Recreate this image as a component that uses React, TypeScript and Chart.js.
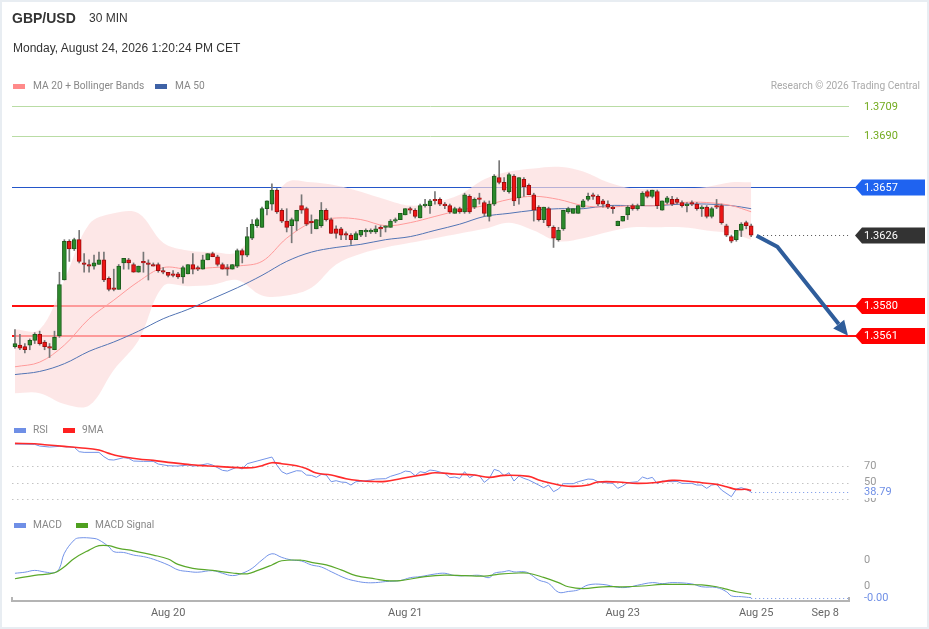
import React, { useEffect, useRef } from "react";
import { Chart, registerables } from "chart.js";

Chart.register(...registerables);

// ---------- DATA ----------
const candleOpen = [
  1.3554, 1.3555, 1.3554, 1.3555, 1.3558, 1.3562, 1.3557, 1.3554, 1.3552, 1.3561,
  1.3597, 1.3622, 1.3617, 1.3623, 1.3608, 1.3607, 1.3606, 1.3607, 1.3610, 1.3598,
  1.3592, 1.3591, 1.3608, 1.3610, 1.3607, 1.3602, 1.3609, 1.3608, 1.3607, 1.3607,
  1.3603, 1.3602, 1.3601, 1.3601, 1.3599, 1.3601, 1.3607, 1.3605, 1.3604, 1.3610,
  1.3614, 1.3612, 1.3607, 1.3605, 1.3604, 1.3606, 1.3616, 1.3613, 1.3624, 1.3632,
  1.3631, 1.3643, 1.3646, 1.3655, 1.3642, 1.3635, 1.3632, 1.3635, 1.3645, 1.3643,
  1.3635, 1.3630, 1.3632, 1.3642, 1.3636, 1.3630, 1.3630, 1.3627, 1.3626, 1.3623,
  1.3626, 1.3628, 1.3628, 1.3628, 1.3631, 1.3631, 1.3631, 1.3635, 1.3636, 1.3639,
  1.3643, 1.3642, 1.3637, 1.3645, 1.3645, 1.3649, 1.3649, 1.3646, 1.3645, 1.3640,
  1.3643, 1.3641, 1.3651, 1.3644, 1.3650, 1.3647, 1.3638, 1.3646, 1.3663, 1.3660,
  1.3654, 1.3664, 1.3650, 1.3662, 1.3658, 1.3652, 1.3644, 1.3636, 1.3643, 1.3631,
  1.3623, 1.3630, 1.3641, 1.3640, 1.3640, 1.3644, 1.3649, 1.3652, 1.3651, 1.3648,
  1.3646, 1.3644, 1.3632, 1.3635, 1.3639, 1.3645, 1.3643, 1.3645, 1.3654, 1.3651,
  1.3654, 1.3642, 1.3647, 1.3649, 1.3649, 1.3647, 1.3645, 1.3647, 1.3646, 1.3643,
  1.3644, 1.3638, 1.3645, 1.3645, 1.3632, 1.3625, 1.3623, 1.3629, 1.3634, 1.3632,
];
const candleHigh = [
  1.3565, 1.3562, 1.3556, 1.3559, 1.3563, 1.3564, 1.3558, 1.3556, 1.3564, 1.3602,
  1.3623, 1.3623, 1.3624, 1.3629, 1.3614, 1.3610, 1.3613, 1.3615, 1.3615, 1.3599,
  1.3604, 1.3607, 1.3611, 1.3611, 1.3608, 1.3606, 1.3615, 1.3610, 1.3608, 1.3608,
  1.3605, 1.3602, 1.3603, 1.3602, 1.3606, 1.3607, 1.3614, 1.3606, 1.3613, 1.3614,
  1.3615, 1.3613, 1.3608, 1.3607, 1.3607, 1.3617, 1.3617, 1.3631, 1.3636, 1.3637,
  1.3644, 1.3648, 1.3659, 1.3656, 1.3643, 1.3643, 1.3637, 1.3642, 1.3652, 1.3644,
  1.3639, 1.3636, 1.3647, 1.3643, 1.3637, 1.3632, 1.3631, 1.3628, 1.3627, 1.3628,
  1.3629, 1.3630, 1.3630, 1.3632, 1.3632, 1.3632, 1.3636, 1.3637, 1.3640, 1.3643,
  1.3644, 1.3643, 1.3646, 1.3649, 1.3649, 1.3654, 1.3650, 1.3647, 1.3646, 1.3644,
  1.3644, 1.3653, 1.3652, 1.3650, 1.3653, 1.3648, 1.3648, 1.3665, 1.3674, 1.3663,
  1.3666, 1.3665, 1.3663, 1.3663, 1.3659, 1.3653, 1.3645, 1.3644, 1.3644, 1.3632,
  1.3631, 1.3642, 1.3644, 1.3643, 1.3645, 1.3649, 1.3653, 1.3653, 1.3652, 1.3649,
  1.3648, 1.3645, 1.3635, 1.3638, 1.3645, 1.3646, 1.3646, 1.3654, 1.3655, 1.3655,
  1.3655, 1.3648, 1.3651, 1.3651, 1.3650, 1.3648, 1.3647, 1.3648, 1.3647, 1.3645,
  1.3645, 1.3644, 1.3649, 1.3646, 1.3633, 1.3626, 1.3629, 1.3634, 1.3635, 1.3633,
];
const candleLow = [
  1.3553, 1.3552, 1.3550, 1.3552, 1.3556, 1.3555, 1.3552, 1.3547, 1.3552, 1.3560,
  1.3597, 1.3609, 1.3616, 1.3608, 1.3602, 1.3602, 1.3604, 1.3607, 1.3596, 1.3590,
  1.3590, 1.3591, 1.3604, 1.3604, 1.3602, 1.3602, 1.3602, 1.3597, 1.3606, 1.3602,
  1.3601, 1.3599, 1.3599, 1.3598, 1.3595, 1.3601, 1.3601, 1.3603, 1.3604, 1.3610,
  1.3612, 1.3606, 1.3604, 1.3600, 1.3604, 1.3605, 1.3608, 1.3612, 1.3623, 1.3631,
  1.3631, 1.3639, 1.3642, 1.3640, 1.3634, 1.3628, 1.3621, 1.3629, 1.3640, 1.3632,
  1.3627, 1.3630, 1.3631, 1.3635, 1.3627, 1.3624, 1.3623, 1.3623, 1.3620, 1.3623,
  1.3625, 1.3625, 1.3627, 1.3627, 1.3625, 1.3628, 1.3631, 1.3634, 1.3636, 1.3639,
  1.3640, 1.3637, 1.3637, 1.3644, 1.3640, 1.3646, 1.3645, 1.3643, 1.3640, 1.3640,
  1.3640, 1.3640, 1.3640, 1.3643, 1.3646, 1.3638, 1.3635, 1.3645, 1.3659, 1.3654,
  1.3653, 1.3645, 1.3646, 1.3651, 1.3652, 1.3635, 1.3635, 1.3634, 1.3631, 1.3618,
  1.3622, 1.3629, 1.3640, 1.3640, 1.3640, 1.3644, 1.3648, 1.3649, 1.3645, 1.3644,
  1.3643, 1.3640, 1.3632, 1.3635, 1.3636, 1.3642, 1.3642, 1.3645, 1.3650, 1.3650,
  1.3643, 1.3642, 1.3646, 1.3645, 1.3646, 1.3644, 1.3641, 1.3645, 1.3642, 1.3638,
  1.3637, 1.3637, 1.3643, 1.3633, 1.3625, 1.3621, 1.3622, 1.3625, 1.3630, 1.3625,
];
const candleClose = [
  1.3556, 1.3553, 1.3552, 1.3558, 1.3562, 1.3556, 1.3554, 1.3553, 1.3560, 1.3594,
  1.3622, 1.3617, 1.3623, 1.3609, 1.3607, 1.3606, 1.3608, 1.3610, 1.3597, 1.3591,
  1.3591, 1.3606, 1.3611, 1.3608, 1.3602, 1.3606, 1.3608, 1.3607, 1.3606, 1.3603,
  1.3602, 1.3600, 1.3600, 1.3599, 1.3605, 1.3607, 1.3604, 1.3604, 1.3610, 1.3614,
  1.3612, 1.3607, 1.3604, 1.3604, 1.3607, 1.3616, 1.3613, 1.3625, 1.3633, 1.3636,
  1.3643, 1.3648, 1.3655, 1.3641, 1.3635, 1.3631, 1.3636, 1.3642, 1.3642, 1.3633,
  1.3634, 1.3636, 1.3642, 1.3636, 1.3627, 1.3627, 1.3626, 1.3626, 1.3623, 1.3627,
  1.3629, 1.3629, 1.3629, 1.3630, 1.3630, 1.3632, 1.3635, 1.3636, 1.3640, 1.3643,
  1.3642, 1.3638, 1.3645, 1.3646, 1.3648, 1.3648, 1.3646, 1.3645, 1.3641, 1.3643,
  1.3641, 1.3652, 1.3641, 1.3649, 1.3649, 1.3640, 1.3646, 1.3664, 1.3660, 1.3655,
  1.3665, 1.3648, 1.3663, 1.3657, 1.3652, 1.3642, 1.3636, 1.3644, 1.3632, 1.3624,
  1.3629, 1.3642, 1.3643, 1.3643, 1.3645, 1.3648, 1.3651, 1.3651, 1.3646, 1.3646,
  1.3644, 1.3643, 1.3635, 1.3638, 1.3644, 1.3643, 1.3645, 1.3653, 1.3651, 1.3655,
  1.3645, 1.3648, 1.3650, 1.3646, 1.3647, 1.3645, 1.3646, 1.3646, 1.3643, 1.3644,
  1.3638, 1.3643, 1.3644, 1.3634, 1.3626, 1.3622, 1.3629, 1.3633, 1.3632, 1.3626,
];

// overlays sampled every 5 candles
const bandIndex = [0, 5, 10, 15, 20, 25, 30, 35, 40, 45, 50, 55, 60, 65, 70, 75, 80, 85, 90, 95, 100, 105, 110, 115, 120, 125, 130, 135, 140, 145, 149];
const bbUpper = [1.3565, 1.3565, 1.3597, 1.3633, 1.3640, 1.3640, 1.3621, 1.3616, 1.3615, 1.3615, 1.3636, 1.3660, 1.3660, 1.3658, 1.3654, 1.3649, 1.3645, 1.3647, 1.3652, 1.3662, 1.3667, 1.3669, 1.3670, 1.3667, 1.3660, 1.3656, 1.3656, 1.3656, 1.3657, 1.3660, 1.3660];
const bbLower = [1.3524, 1.3524, 1.3517, 1.3516, 1.3539, 1.3558, 1.3593, 1.3593, 1.3594, 1.3597, 1.3587, 1.3587, 1.3592, 1.3607, 1.3614, 1.3618, 1.3621, 1.3624, 1.3627, 1.3630, 1.3634, 1.3629, 1.3622, 1.3624, 1.3628, 1.3631, 1.3631, 1.3631, 1.3629, 1.3627, 1.3623];
const ma20 = [1.3541, 1.3544, 1.3555, 1.3572, 1.3584, 1.3596, 1.3605, 1.3604, 1.3605, 1.3606, 1.3609, 1.3624, 1.3634, 1.3637, 1.3636, 1.3632, 1.3634, 1.3638, 1.3642, 1.3645, 1.3649, 1.3651, 1.3649, 1.3645, 1.3644, 1.3645, 1.3645, 1.3647, 1.3647, 1.3645, 1.3641];
const ma50 = [1.3536, 1.3538, 1.3543, 1.3551, 1.3557, 1.3564, 1.3572, 1.3578, 1.3585, 1.3592, 1.3600, 1.3609, 1.3615, 1.3618, 1.3620, 1.3623, 1.3625, 1.3629, 1.3633, 1.3638, 1.3640, 1.3642, 1.3643, 1.3643, 1.3645, 1.3645, 1.3645, 1.3646, 1.3646, 1.3645, 1.3643];

// [candle index, value]
const rsiPoints = [
  [0, 96.4], [4, 96.0], [5, 94.0], [7, 92.8], [9, 93.6], [11, 92.8], [12, 92.4], [13, 87.2], [14, 86.4], [17, 86.4],
  [18, 81.2], [19, 77.6], [20, 77.2], [22, 80.0], [23, 79.2], [24, 76.0], [26, 75.6], [28, 75.6], [29, 72.4], [31, 70.4],
  [33, 70.0], [35, 71.2], [36, 70.0], [37, 70.4], [39, 72.8], [40, 71.2], [42, 64.8], [43, 64.0], [45, 68.8], [46, 66.4],
  [47, 72.8], [49, 76.0], [51, 79.2], [52, 80.8], [53, 71.2], [54, 63.2], [55, 60.4], [57, 64.4], [58, 64.0], [59, 59.2],
  [60, 58.8], [61, 56.4], [62, 60.0], [63, 59.2], [64, 51.2], [65, 52.4], [66, 50.8], [67, 50.4], [68, 47.2], [69, 51.2],
  [70, 51.6], [72, 53.2], [73, 54.4], [75, 54.8], [76, 57.6], [78, 61.2], [79, 64.0], [80, 63.2], [81, 58.4], [82, 63.2],
  [83, 62.0], [84, 65.2], [85, 64.4], [87, 61.2], [88, 56.0], [89, 56.8], [90, 55.2], [91, 63.2], [92, 56.0], [93, 59.2],
  [94, 58.4], [95, 50.4], [96, 55.2], [97, 66.0], [98, 64.0], [99, 58.4], [100, 62.0], [101, 52.0], [102, 58.0], [103, 55.2],
  [104, 53.2], [106, 47.2], [107, 44.0], [108, 47.2], [109, 39.2], [110, 42.4], [111, 48.8], [113, 48.8], [114, 51.2], [116, 54.4],
  [117, 54.0], [118, 51.2], [120, 49.6], [121, 49.2], [122, 43.2], [123, 46.0], [124, 50.0], [126, 51.2], [127, 56.8], [128, 54.8],
  [129, 56.4], [130, 48.8], [131, 52.0], [133, 51.2], [134, 51.6], [135, 49.2], [137, 49.2], [138, 47.2], [139, 47.2], [140, 43.2],
  [141, 47.2], [142, 48.0], [143, 41.2], [145, 33.2], [146, 42.4], [147, 44.0], [148, 42.0], [149, 38.79],
];
const rsi9maPoints = [
  [0, 97.2], [4, 96.8], [6, 95.6], [10, 93.6], [13, 92.0], [17, 89.2], [19, 85.2], [21, 82.0], [25, 78.4], [28, 76.8],
  [31, 74.4], [35, 72.0], [37, 70.8], [41, 69.6], [44, 68.4], [48, 68.0], [50, 70.4], [52, 74.0], [54, 72.8], [57, 70.4],
  [59, 66.8], [61, 61.6], [64, 59.2], [67, 54.8], [70, 52.4], [72, 51.6], [75, 51.6], [78, 54.8], [79, 56.0], [83, 60.0],
  [85, 62.0], [89, 60.4], [93, 59.2], [96, 56.4], [99, 58.8], [104, 57.6], [106, 53.2], [109, 48.8], [111, 46.4], [113, 45.6],
  [116, 47.2], [118, 50.8], [122, 50.8], [126, 49.2], [130, 50.4], [133, 52.8], [135, 52.4], [139, 50.0], [142, 48.0], [144, 45.2],
  [146, 42.0], [148, 42.0], [149, 40.8],
];
const macdPoints = [
  [0, 4.9e-4], [2, 5.3e-4], [4, 6.0e-4], [6, 5.4e-4], [8, 5.1e-4], [9, 6.8e-4], [10, 12.6e-4], [12, 17.7e-4], [13, 18.5e-4], [16, 18.3e-4],
  [17, 17.7e-4], [19, 15.1e-4], [20, 13.2e-4], [22, 12.9e-4], [24, 11.9e-4], [26, 11.3e-4], [28, 10.3e-4], [31, 8.1e-4], [33, 6.2e-4], [35, 5.6e-4],
  [37, 5.3e-4], [40, 5.9e-4], [42, 4.9e-4], [44, 4.0e-4], [46, 4.9e-4], [48, 6.8e-4], [50, 10.0e-4], [52, 12.4e-4], [54, 11.0e-4], [56, 10.0e-4],
  [58, 9.6e-4], [60, 8.1e-4], [62, 7.3e-4], [64, 5.5e-4], [67, 2.9e-4], [69, 1.9e-4], [71, 1.3e-4], [73, 1.3e-4], [75, 1.7e-4], [78, 2.1e-4],
  [80, 3.2e-4], [82, 3.6e-4], [85, 4.6e-4], [87, 4.9e-4], [89, 4.0e-4], [92, 4.0e-4], [94, 4.1e-4], [96, 3.2e-4], [97, 4.9e-4], [99, 5.5e-4],
  [100, 5.9e-4], [101, 5.4e-4], [103, 5.5e-4], [104, 4.9e-4], [106, 2.3e-4], [108, 1.0e-4], [110, -2.4e-4], [112, -2.1e-4], [114, -1.5e-4], [116, 0.4e-4],
  [119, 0.6e-4], [122, -0.5e-4], [124, -0.5e-4], [126, 0.3e-4], [129, 1.3e-4], [131, 0.9e-4], [133, 1.3e-4], [137, 0.8e-4], [139, -0.3e-4], [142, -0.6e-4],
  [144, -2.2e-4], [145, -3.8e-4], [147, -4.1e-4], [149, -4.5e-4],
];
const macdSignalPoints = [
  [0, 2.8e-4], [4, 4.1e-4], [8, 5.1e-4], [10, 7.4e-4], [12, 10.6e-4], [15, 13.8e-4], [17, 15.5e-4], [19, 15.5e-4], [21, 14.5e-4], [24, 13.5e-4],
  [28, 11.9e-4], [31, 10.4e-4], [33, 8.3e-4], [36, 6.8e-4], [40, 6.0e-4], [44, 5.0e-4], [47, 4.7e-4], [49, 5.9e-4], [52, 8.1e-4], [54, 9.7e-4],
  [58, 9.9e-4], [60, 9.1e-4], [63, 8.1e-4], [66, 6.2e-4], [69, 4.0e-4], [73, 2.7e-4], [75, 2.1e-4], [78, 2.1e-4], [83, 3.6e-4], [87, 4.2e-4],
  [91, 4.0e-4], [95, 3.8e-4], [98, 4.6e-4], [102, 5.0e-4], [104, 4.9e-4], [107, 3.3e-4], [110, 1.3e-4], [112, -0.3e-4], [115, -1.0e-4], [119, -0.3e-4],
  [123, -0.3e-4], [127, 0.0], [131, 0.6e-4], [135, 0.6e-4], [139, 0.4e-4], [142, -0.3e-4], [144, -1.2e-4], [146, -2.2e-4], [149, -3.1e-4],
];

const xTickIndex = [31, 79, 123, 150, 164];
const xTickLabels = ["Aug 20", "Aug 21", "Aug 23", "Aug 25", "Sep 8"];

const resistanceLevels = [1.3709, 1.369];
const pivotLevel = 1.3657;
const lastPrice = 1.3626;
const supportLevels = [1.358, 1.3561];
const rsiTicks = [70, 50, 30];
const rsiLast = 38.79;
const macdTicks = [0.001, 0];
const macdLast = -0.00045;
const arrowPath = [[150.1, 1.36256], [154.3, 1.36185], [168.6, 1.3561]];

// ---------- STYLE ----------
const FONT = "Roboto, 'Liberation Sans', Arial, sans-serif";
const HEAD_FONT = "'Liberation Sans', Arial, sans-serif";
const GREEN_BODY = "#2b8a2b";
const GREEN_EDGE = "#1d5c1d";
const RED_BODY = "#ee1515";
const RED_EDGE = "#9a0d0d";

function tag(ctx: CanvasRenderingContext2D, y: number, text: string, bg: string) {
  const x0 = 855;
  ctx.beginPath();
  ctx.moveTo(x0, y);
  ctx.lineTo(x0 + 7, y - 8);
  ctx.lineTo(925, y - 8);
  ctx.lineTo(925, y + 8);
  ctx.lineTo(x0 + 7, y + 8);
  ctx.closePath();
  ctx.fillStyle = bg;
  ctx.fill();
  ctx.fillStyle = "#ffffff";
  ctx.font = `11px ${FONT}`;
  ctx.textAlign = "left";
  ctx.textBaseline = "middle";
  ctx.fillText(text, 864, y + 0.5);
}

const overlayPlugin = {
  id: "overlay",
  beforeDatasetsDraw(chart: any) {
    const { ctx, chartArea: a, scales } = chart;
    const y = scales.y;
    const yr = scales.yRsi;
    ctx.save();
    ctx.strokeStyle = "#b9dca4";
    ctx.lineWidth = 1;
    resistanceLevels.forEach((v) => {
      const py = Math.round(y.getPixelForValue(v)) + 0.5;
      ctx.beginPath();
      ctx.moveTo(a.left, py);
      ctx.lineTo(a.right, py);
      ctx.stroke();
    });
    {
      const py = Math.round(y.getPixelForValue(pivotLevel)) + 0.5;
      ctx.strokeStyle = "#2456c9";
      ctx.beginPath();
      ctx.moveTo(a.left, py);
      ctx.lineTo(856, py);
      ctx.stroke();
    }
    ctx.strokeStyle = "#ff1010";
    ctx.lineWidth = 2;
    supportLevels.forEach((v) => {
      const py = Math.round(y.getPixelForValue(v));
      ctx.beginPath();
      ctx.moveTo(a.left, py);
      ctx.lineTo(856, py);
      ctx.stroke();
    });
    ctx.lineWidth = 1;
    ctx.strokeStyle = "#c4c4c4";
    ctx.setLineDash([1.5, 3.5]);
    rsiTicks.forEach((v) => {
      const py = Math.round(yr.getPixelForValue(v)) + 0.5;
      ctx.beginPath();
      ctx.moveTo(a.left, py);
      ctx.lineTo(a.right, py);
      ctx.stroke();
    });
    ctx.restore();
  },
  afterDatasetsDraw(chart: any) {
    const { ctx, chartArea: a, scales } = chart;
    const x = scales.x;
    const y = scales.y;
    const yr = scales.yRsi;
    const ym = scales.yMacd;
    const lastIdx = candleClose.length - 1;
    ctx.save();
    {
      const py = Math.round(y.getPixelForValue(lastPrice)) + 0.5;
      ctx.strokeStyle = "#555";
      ctx.lineWidth = 1;
      ctx.setLineDash([1, 3]);
      ctx.beginPath();
      ctx.moveTo(x.getPixelForValue(lastIdx + 1.6), py);
      ctx.lineTo(a.right, py);
      ctx.stroke();
    }
    ctx.strokeStyle = "#7393e8";
    {
      const py = Math.round(yr.getPixelForValue(rsiLast)) + 0.5;
      ctx.beginPath();
      ctx.moveTo(x.getPixelForValue(lastIdx), py);
      ctx.lineTo(a.right, py);
      ctx.stroke();
      const pm = Math.round(ym.getPixelForValue(macdLast)) + 0.5;
      ctx.beginPath();
      ctx.moveTo(x.getPixelForValue(lastIdx), pm);
      ctx.lineTo(a.right, pm);
      ctx.stroke();
    }
    ctx.setLineDash([]);
    const pts = arrowPath.map(([i, p]) => [x.getPixelForValue(i), y.getPixelForValue(p)]);
    ctx.strokeStyle = "#2f5d9b";
    ctx.fillStyle = "#2f5d9b";
    ctx.lineWidth = 4;
    ctx.lineJoin = "round";
    const tip = pts[pts.length - 1];
    const prev = pts[pts.length - 2];
    const ang = Math.atan2(tip[1] - prev[1], tip[0] - prev[0]);
    const headLen = 15;
    const baseX = tip[0] - Math.cos(ang) * headLen;
    const baseY = tip[1] - Math.sin(ang) * headLen;
    ctx.beginPath();
    ctx.moveTo(pts[0][0], pts[0][1]);
    for (let k = 1; k < pts.length - 1; k++) ctx.lineTo(pts[k][0], pts[k][1]);
    ctx.lineTo(baseX, baseY);
    ctx.stroke();
    ctx.beginPath();
    ctx.moveTo(tip[0], tip[1]);
    ctx.lineTo(baseX + Math.cos(ang + Math.PI / 2) * 7, baseY + Math.sin(ang + Math.PI / 2) * 7);
    ctx.lineTo(baseX + Math.cos(ang - Math.PI / 2) * 7, baseY + Math.sin(ang - Math.PI / 2) * 7);
    ctx.closePath();
    ctx.fill();
    ctx.restore();
  },
  afterDraw(chart: any) {
    const { ctx, chartArea: a, scales } = chart;
    const y = scales.y;
    const yr = scales.yRsi;
    const ym = scales.yMacd;
    ctx.save();
    ctx.font = `11px ${FONT}`;
    ctx.textAlign = "left";
    ctx.textBaseline = "middle";
    ctx.fillStyle = "#73ab1f";
    resistanceLevels.forEach((v) => ctx.fillText(v.toFixed(4), 864, y.getPixelForValue(v) + 0.5));
    tag(ctx, Math.round(y.getPixelForValue(pivotLevel)) + 0.5, pivotLevel.toFixed(4), "#1f63f0");
    tag(ctx, Math.round(y.getPixelForValue(lastPrice)) + 0.5, lastPrice.toFixed(4), "#333333");
    supportLevels.forEach((v) => tag(ctx, Math.round(y.getPixelForValue(v)), v.toFixed(4), "#ff0000"));
    ctx.font = `11px ${FONT}`;
    ctx.fillStyle = "#999";
    ctx.textBaseline = "middle";
    rsiTicks.forEach((v) => ctx.fillText(String(v), 864, yr.getPixelForValue(v)));
    const pr = yr.getPixelForValue(rsiLast);
    ctx.fillStyle = "#ffffff";
    ctx.fillRect(862, pr - 6, 40, 12);
    ctx.fillStyle = "#6f8fe6";
    ctx.fillText(rsiLast.toFixed(2), 864, pr + 0.5);
    ctx.fillStyle = "#999";
    macdTicks.forEach((v) => ctx.fillText(v.toFixed(0), 864, ym.getPixelForValue(v)));
    ctx.fillStyle = "#6f8fe6";
    ctx.fillText(macdLast.toFixed(2), 864, ym.getPixelForValue(macdLast) + 0.5);
    ctx.strokeStyle = "#b4b4b4";
    ctx.lineWidth = 2;
    [a.left, a.right].forEach((px) => {
      ctx.beginPath();
      ctx.moveTo(px, a.bottom - 4);
      ctx.lineTo(px, a.bottom + 1);
      ctx.stroke();
    });
    ctx.restore();
  },
};

export default function App() {
  const ref = useRef<HTMLCanvasElement | null>(null);

  useEffect(() => {
    if (!ref.current) return;
    Chart.defaults.font.family = FONT;
    const up = candleOpen.map((o, i) => candleClose[i] >= o);
    const bodyData = candleOpen.map((o, i) => ({ x: i, y: [o, candleClose[i]] }));
    const wickData = candleLow.map((l, i) => ({ x: i, y: [l, candleHigh[i]] }));
    const toXY = (idx: number[], vals: number[]) => idx.map((x, i) => ({ x, y: vals[i] }));
    const pairs = (p: number[][]) => p.map(([x, v]) => ({ x, y: v }));

    const chart = new Chart(ref.current, {
      type: "bar",
      data: {
        datasets: [
          {
            type: "line",
            data: toXY(bandIndex, bbUpper),
            borderWidth: 0,
            borderColor: "rgba(0,0,0,0)",
            pointRadius: 0,
            fill: "+1",
            backgroundColor: "rgba(252, 220, 220, 0.68)",
            tension: 0.35,
            order: 10,
            yAxisID: "y",
          } as any,
          {
            type: "line",
            data: toXY(bandIndex, bbLower),
            borderWidth: 0,
            borderColor: "rgba(0,0,0,0)",
            pointRadius: 0,
            fill: false,
            tension: 0.35,
            order: 11,
            yAxisID: "y",
          } as any,
          {
            type: "line",
            data: toXY(bandIndex, ma20),
            borderWidth: 1,
            borderColor: "#ff9a9a",
            pointRadius: 0,
            fill: false,
            tension: 0.35,
            order: 8,
            yAxisID: "y",
          } as any,
          {
            type: "line",
            data: toXY(bandIndex, ma50),
            borderWidth: 1,
            borderColor: "#5274b4",
            pointRadius: 0,
            fill: false,
            tension: 0.35,
            order: 8,
            yAxisID: "y",
          } as any,
          {
            type: "bar",
            data: wickData,
            backgroundColor: "#777777",
            barThickness: 1,
            grouped: false,
            order: 3,
            yAxisID: "y",
          } as any,
          {
            type: "bar",
            data: bodyData,
            backgroundColor: up.map((u) => (u ? GREEN_BODY : RED_BODY)),
            borderColor: up.map((u) => (u ? GREEN_EDGE : RED_EDGE)),
            borderWidth: 1,
            borderSkipped: false,
            barThickness: 4,
            minBarLength: 1,
            grouped: false,
            order: 2,
            yAxisID: "y",
          } as any,
          {
            type: "line",
            data: pairs(rsiPoints),
            borderWidth: 1,
            borderColor: "#7393e8",
            pointRadius: 0,
            fill: false,
            tension: 0,
            order: 1,
            yAxisID: "yRsi",
          } as any,
          {
            type: "line",
            data: pairs(rsi9maPoints),
            borderWidth: 1.6,
            borderColor: "#ff2a2a",
            pointRadius: 0,
            fill: false,
            tension: 0.4,
            order: 0,
            yAxisID: "yRsi",
          } as any,
          {
            type: "line",
            data: pairs(macdPoints),
            borderWidth: 1,
            borderColor: "#7393e8",
            pointRadius: 0,
            fill: false,
            tension: 0.4,
            order: 1,
            yAxisID: "yMacd",
          } as any,
          {
            type: "line",
            data: pairs(macdSignalPoints),
            borderWidth: 1.2,
            borderColor: "#5aa82a",
            pointRadius: 0,
            fill: false,
            tension: 0.4,
            order: 0,
            yAxisID: "yMacd",
          } as any,
        ],
      },
      options: {
        responsive: false,
        animation: false,
        events: [],
        layout: { padding: { left: 12, right: 80, top: 95, bottom: 0 } },
        plugins: { legend: { display: false }, tooltip: { enabled: false } },
        scales: {
          x: {
            type: "linear",
            min: -0.6,
            max: 168.8,
            offset: false,
            grid: { display: false, drawTicks: false },
            border: { display: true, color: "#b4b4b4", width: 2 },
            afterBuildTicks: (axis: any) => {
              axis.ticks = xTickIndex.map((v) => ({ value: v }));
            },
            afterFit: (axis: any) => {
              axis.height = 28;
            },
            ticks: {
              autoSkip: false,
              maxRotation: 0,
              padding: 6,
              color: "#666",
              font: { size: 11, family: FONT },
              callback: (v: any) => {
                const k = xTickIndex.indexOf(Number(v));
                return k >= 0 ? xTickLabels[k] : "";
              },
            },
          },
          y: { type: "linear", display: false, min: 1.3389903, max: 1.3716355 },
          yRsi: { type: "linear", display: false, min: -91.96, max: 515.24 },
          yMacd: { type: "linear", display: false, min: -0.000577, max: 0.0188846 },
        },
      } as any,
      plugins: [overlayPlugin as any],
    });
    return () => chart.destroy();
  }, []);

  const txt: React.CSSProperties = { position: "absolute", whiteSpace: "nowrap", fontFamily: FONT };
  const sw = (left: number, top: number, color: string): React.CSSProperties => ({
    position: "absolute",
    left,
    top,
    width: 12,
    height: 5,
    background: color,
  });

  return (
    <div
      style={{
        position: "fixed",
        left: 0,
        top: 0,
        width: 929,
        height: 629,
        background: "#fff",
        overflow: "hidden",
      }}
    >
      <canvas ref={ref} width={929} height={629} style={{ position: "absolute", left: 0, top: 0 }} />
      <div
        style={{
          position: "absolute",
          left: 0,
          top: 0,
          width: 929,
          height: 629,
          boxSizing: "border-box",
          border: "2px solid #e8edf2",
          pointerEvents: "none",
        }}
      />
      <div style={{ ...txt, left: 12, top: 10, fontSize: 14, fontWeight: 700, color: "#333", fontFamily: HEAD_FONT }}>GBP/USD</div>
      <div style={{ ...txt, left: 89, top: 11, fontSize: 12, color: "#333", fontFamily: HEAD_FONT }}>30 MIN</div>
      <div style={{ ...txt, left: 13, top: 41, fontSize: 12, color: "#333", fontFamily: HEAD_FONT }}>
        Monday, August 24, 2026 1:20:24 PM CET
      </div>

      <div style={sw(13, 84, "#ff8a8a")} />
      <div style={{ ...txt, left: 33, top: 80, fontSize: 10.2, color: "#888" }}>MA 20 + Bollinger Bands</div>
      <div style={sw(155, 84, "#3f62a6")} />
      <div style={{ ...txt, left: 175, top: 80, fontSize: 10.2, color: "#888" }}>MA 50</div>
      <div style={{ ...txt, right: 9, top: 80, fontSize: 10.2, color: "#aaa" }}>Research © 2026 Trading Central</div>

      <div style={sw(14, 428, "#6f8fe6")} />
      <div style={{ ...txt, left: 33, top: 424, fontSize: 10.2, color: "#888" }}>RSI</div>
      <div style={sw(63, 428, "#ff2020")} />
      <div style={{ ...txt, left: 82, top: 424, fontSize: 10.2, color: "#888" }}>9MA</div>

      <div style={sw(14, 523, "#6f8fe6")} />
      <div style={{ ...txt, left: 33, top: 519, fontSize: 10.2, color: "#888" }}>MACD</div>
      <div style={sw(76, 523, "#4fa020")} />
      <div style={{ ...txt, left: 95, top: 519, fontSize: 10.2, color: "#888" }}>MACD Signal</div>
    </div>
  );
}
